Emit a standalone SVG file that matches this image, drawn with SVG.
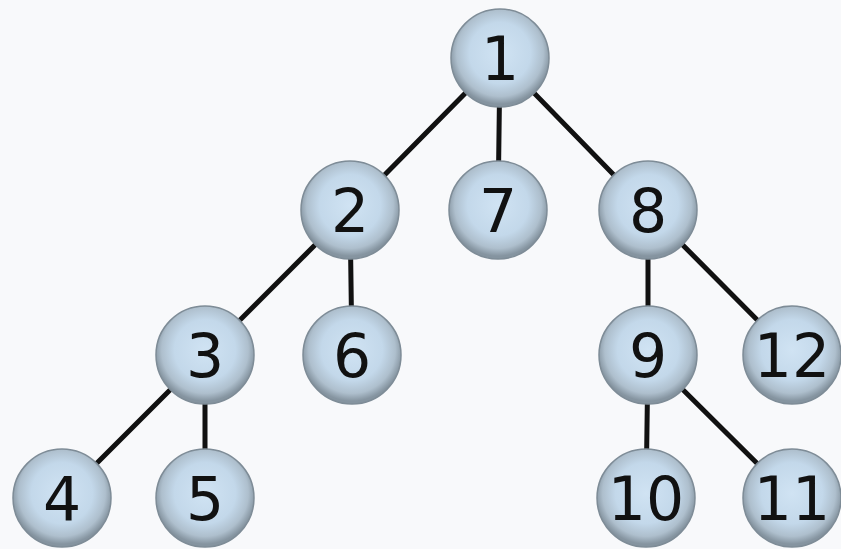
<svg xmlns="http://www.w3.org/2000/svg" width="841" height="549" viewBox="0 0 841 549">
<defs>
<radialGradient id="g" cx="50%" cy="45%" r="52%">
<stop offset="0" stop-color="#d0e3f3"/>
<stop offset="0.6" stop-color="#c3d8ea"/>
<stop offset="0.85" stop-color="#aebfcd"/>
<stop offset="1" stop-color="#8594a0"/>
</radialGradient>
<style>
.n circle{fill:url(#g);stroke:#7e8c97;stroke-width:1.5}
.n text{font-family:"DejaVu Sans",sans-serif;font-size:60px;fill:#111;text-anchor:middle;dominant-baseline:central}
.e line{stroke:#111;stroke-width:5;stroke-linecap:round}
</style>
</defs>
<rect width="841" height="549" fill="#f8f9fb"/>
<g id="edges" class="e">
<line x1="500" y1="58" x2="350" y2="210"/>
<line x1="500" y1="58" x2="498" y2="210"/>
<line x1="500" y1="58" x2="648" y2="210"/>
<line x1="350" y1="210" x2="205" y2="355"/>
<line x1="350" y1="210" x2="352" y2="355"/>
<line x1="648" y1="210" x2="648" y2="355"/>
<line x1="648" y1="210" x2="792" y2="355"/>
<line x1="205" y1="355" x2="62" y2="498"/>
<line x1="205" y1="355" x2="205" y2="498"/>
<line x1="648" y1="355" x2="646" y2="498"/>
<line x1="648" y1="355" x2="792" y2="498"/>
</g>
<g id="n1" class="n"><circle cx="500" cy="58" r="49"/><text x="500" y="59">1</text></g>
<g id="n2" class="n"><circle cx="350" cy="210" r="49"/><text x="350" y="211">2</text></g>
<g id="n7" class="n"><circle cx="498" cy="210" r="49"/><text x="498" y="211">7</text></g>
<g id="n8" class="n"><circle cx="648" cy="210" r="49"/><text x="648" y="211">8</text></g>
<g id="n3" class="n"><circle cx="205" cy="355" r="49"/><text x="205" y="356">3</text></g>
<g id="n6" class="n"><circle cx="352" cy="355" r="49"/><text x="352" y="356">6</text></g>
<g id="n9" class="n"><circle cx="648" cy="355" r="49"/><text x="648" y="356">9</text></g>
<g id="n12" class="n"><circle cx="792" cy="355" r="49"/><text x="792" y="356">12</text></g>
<g id="n4" class="n"><circle cx="62" cy="498" r="49"/><text x="62" y="499">4</text></g>
<g id="n5" class="n"><circle cx="205" cy="498" r="49"/><text x="205" y="499">5</text></g>
<g id="n10" class="n"><circle cx="646" cy="498" r="49"/><text x="646" y="499">10</text></g>
<g id="n11" class="n"><circle cx="792" cy="498" r="49"/><text x="792" y="499">11</text></g>
</svg>
